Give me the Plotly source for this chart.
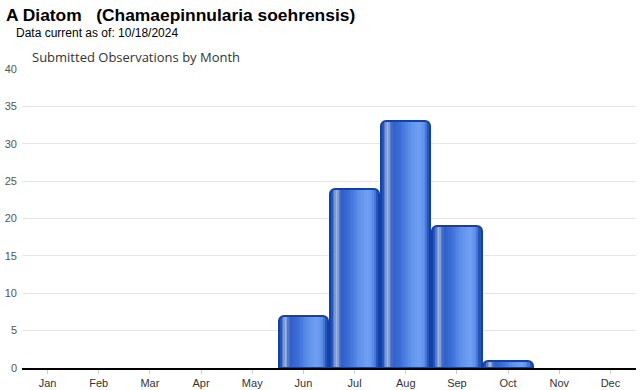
import plotly.graph_objects as go

months = ["Jan", "Feb", "Mar", "Apr", "May", "Jun", "Jul", "Aug", "Sep", "Oct", "Nov", "Dec"]
observations = [0, 0, 0, 0, 0, 7, 24, 33, 19, 1, 0, 0]
y_ticks = [0, 5, 10, 15, 20, 25, 30, 35, 40]

title_text = "<b>A Diatom   (Chamaepinnularia soehrensis)</b>"
subtitle_text = "Data current as of: 10/18/2024"
chart_title = "Submitted Observations by Month"

# cylinder-like horizontal shading profile across a bar (position fraction, colour)
profile = [
    (0.00, (30, 78, 176)),
    (0.06, (52, 96, 196)),
    (0.11, (120, 150, 210)),
    (0.15, (170, 190, 225)),
    (0.19, (90, 125, 205)),
    (0.25, (50, 95, 200)),
    (0.40, (60, 110, 215)),
    (0.60, (95, 145, 235)),
    (0.78, (112, 160, 243)),
    (0.88, (95, 145, 235)),
    (0.94, (55, 100, 205)),
    (1.00, (30, 78, 176)),
]

def colour_at(t):
    for (t0, c0), (t1, c1) in zip(profile[:-1], profile[1:]):
        if t0 <= t <= t1:
            f = (t - t0) / (t1 - t0) if t1 > t0 else 0
            return "rgb(%d,%d,%d)" % tuple(round(a + (b - a) * f) for a, b in zip(c0, c1))
    return "rgb(%d,%d,%d)" % profile[-1][1]

bar_w = 0.965
yvals = [v if v > 0 else None for v in observations]

fig = go.Figure()
# base bar with rounded top corners
fig.add_trace(go.Bar(x=months, y=yvals, width=bar_w, marker=dict(color="rgb(40,85,185)", line=dict(width=0), cornerradius=5),
                     hoverinfo="skip", showlegend=False))
n = 30
inner0, inner1 = 0.07, 0.93
for i in range(n):
    a = inner0 + (inner1 - inner0) * i / n
    b = inner0 + (inner1 - inner0) * (i + 1) / n
    fig.add_trace(go.Bar(
        x=months, y=yvals,
        width=(b - a) * bar_w + 0.004,
        offset=-bar_w / 2 + a * bar_w,
        marker=dict(color=colour_at((a + b) / 2), line=dict(width=0)),
        hoverinfo="skip", showlegend=False,
    ))
# outline
fig.add_trace(go.Bar(x=months, y=yvals, width=bar_w,
                     marker=dict(color="rgba(0,0,0,0)", line=dict(width=2, color="rgb(16,66,168)"), cornerradius=5),
                     hovertemplate="%{x}: %{y}<extra></extra>", showlegend=False))

fig.update_layout(
    width=640, height=390,
    barmode="overlay",
    bargap=0.0,
    plot_bgcolor="white", paper_bgcolor="white",
    margin=dict(l=22, r=4, t=69, b=22),
    title=dict(text=title_text, x=6 / 640, xanchor="left", y=1 - 15 / 390, yanchor="middle", yref="container",
               font=dict(family="Liberation Sans, Arial", size=17.4, color="black")),
    annotations=[
        dict(text=subtitle_text, xref="paper", yref="paper", x=(14 - 22) / 614, y=(368 - 33) / 299,
             xanchor="left", yanchor="middle", showarrow=False,
             font=dict(family="Liberation Sans, Arial", size=12, color="black")),
        dict(text=chart_title, xref="paper", yref="paper", x=(30 - 22) / 614, y=(368 - 57) / 299,
             xanchor="left", yanchor="middle", showarrow=False,
             font=dict(family="Open Sans", size=13, color="#333333")),
    ],
    xaxis=dict(type="category", categoryorder="array", categoryarray=months, automargin=False,
               showline=True, linecolor="black", linewidth=2, showgrid=False,
               ticks="outside", ticklen=4, tickcolor="#cccccc", tickwidth=1,
               tickfont=dict(family="Liberation Sans, Arial", size=11, color="#333333"),
               range=[-0.5, 11.5]),
    yaxis=dict(range=[0, 40], tickvals=y_ticks, showgrid=True, gridcolor="#e6e6e6", gridwidth=1,
               zeroline=False, ticks="", showline=False, automargin=False, ticklabelstandoff=4,
               tickfont=dict(family="Liberation Sans, Arial", size=11, color="#555555")),
)

fig.write_html("out.html", config={"displayModeBar": False},
               post_script="document.body.style.margin='0';document.body.style.overflow='hidden';")
